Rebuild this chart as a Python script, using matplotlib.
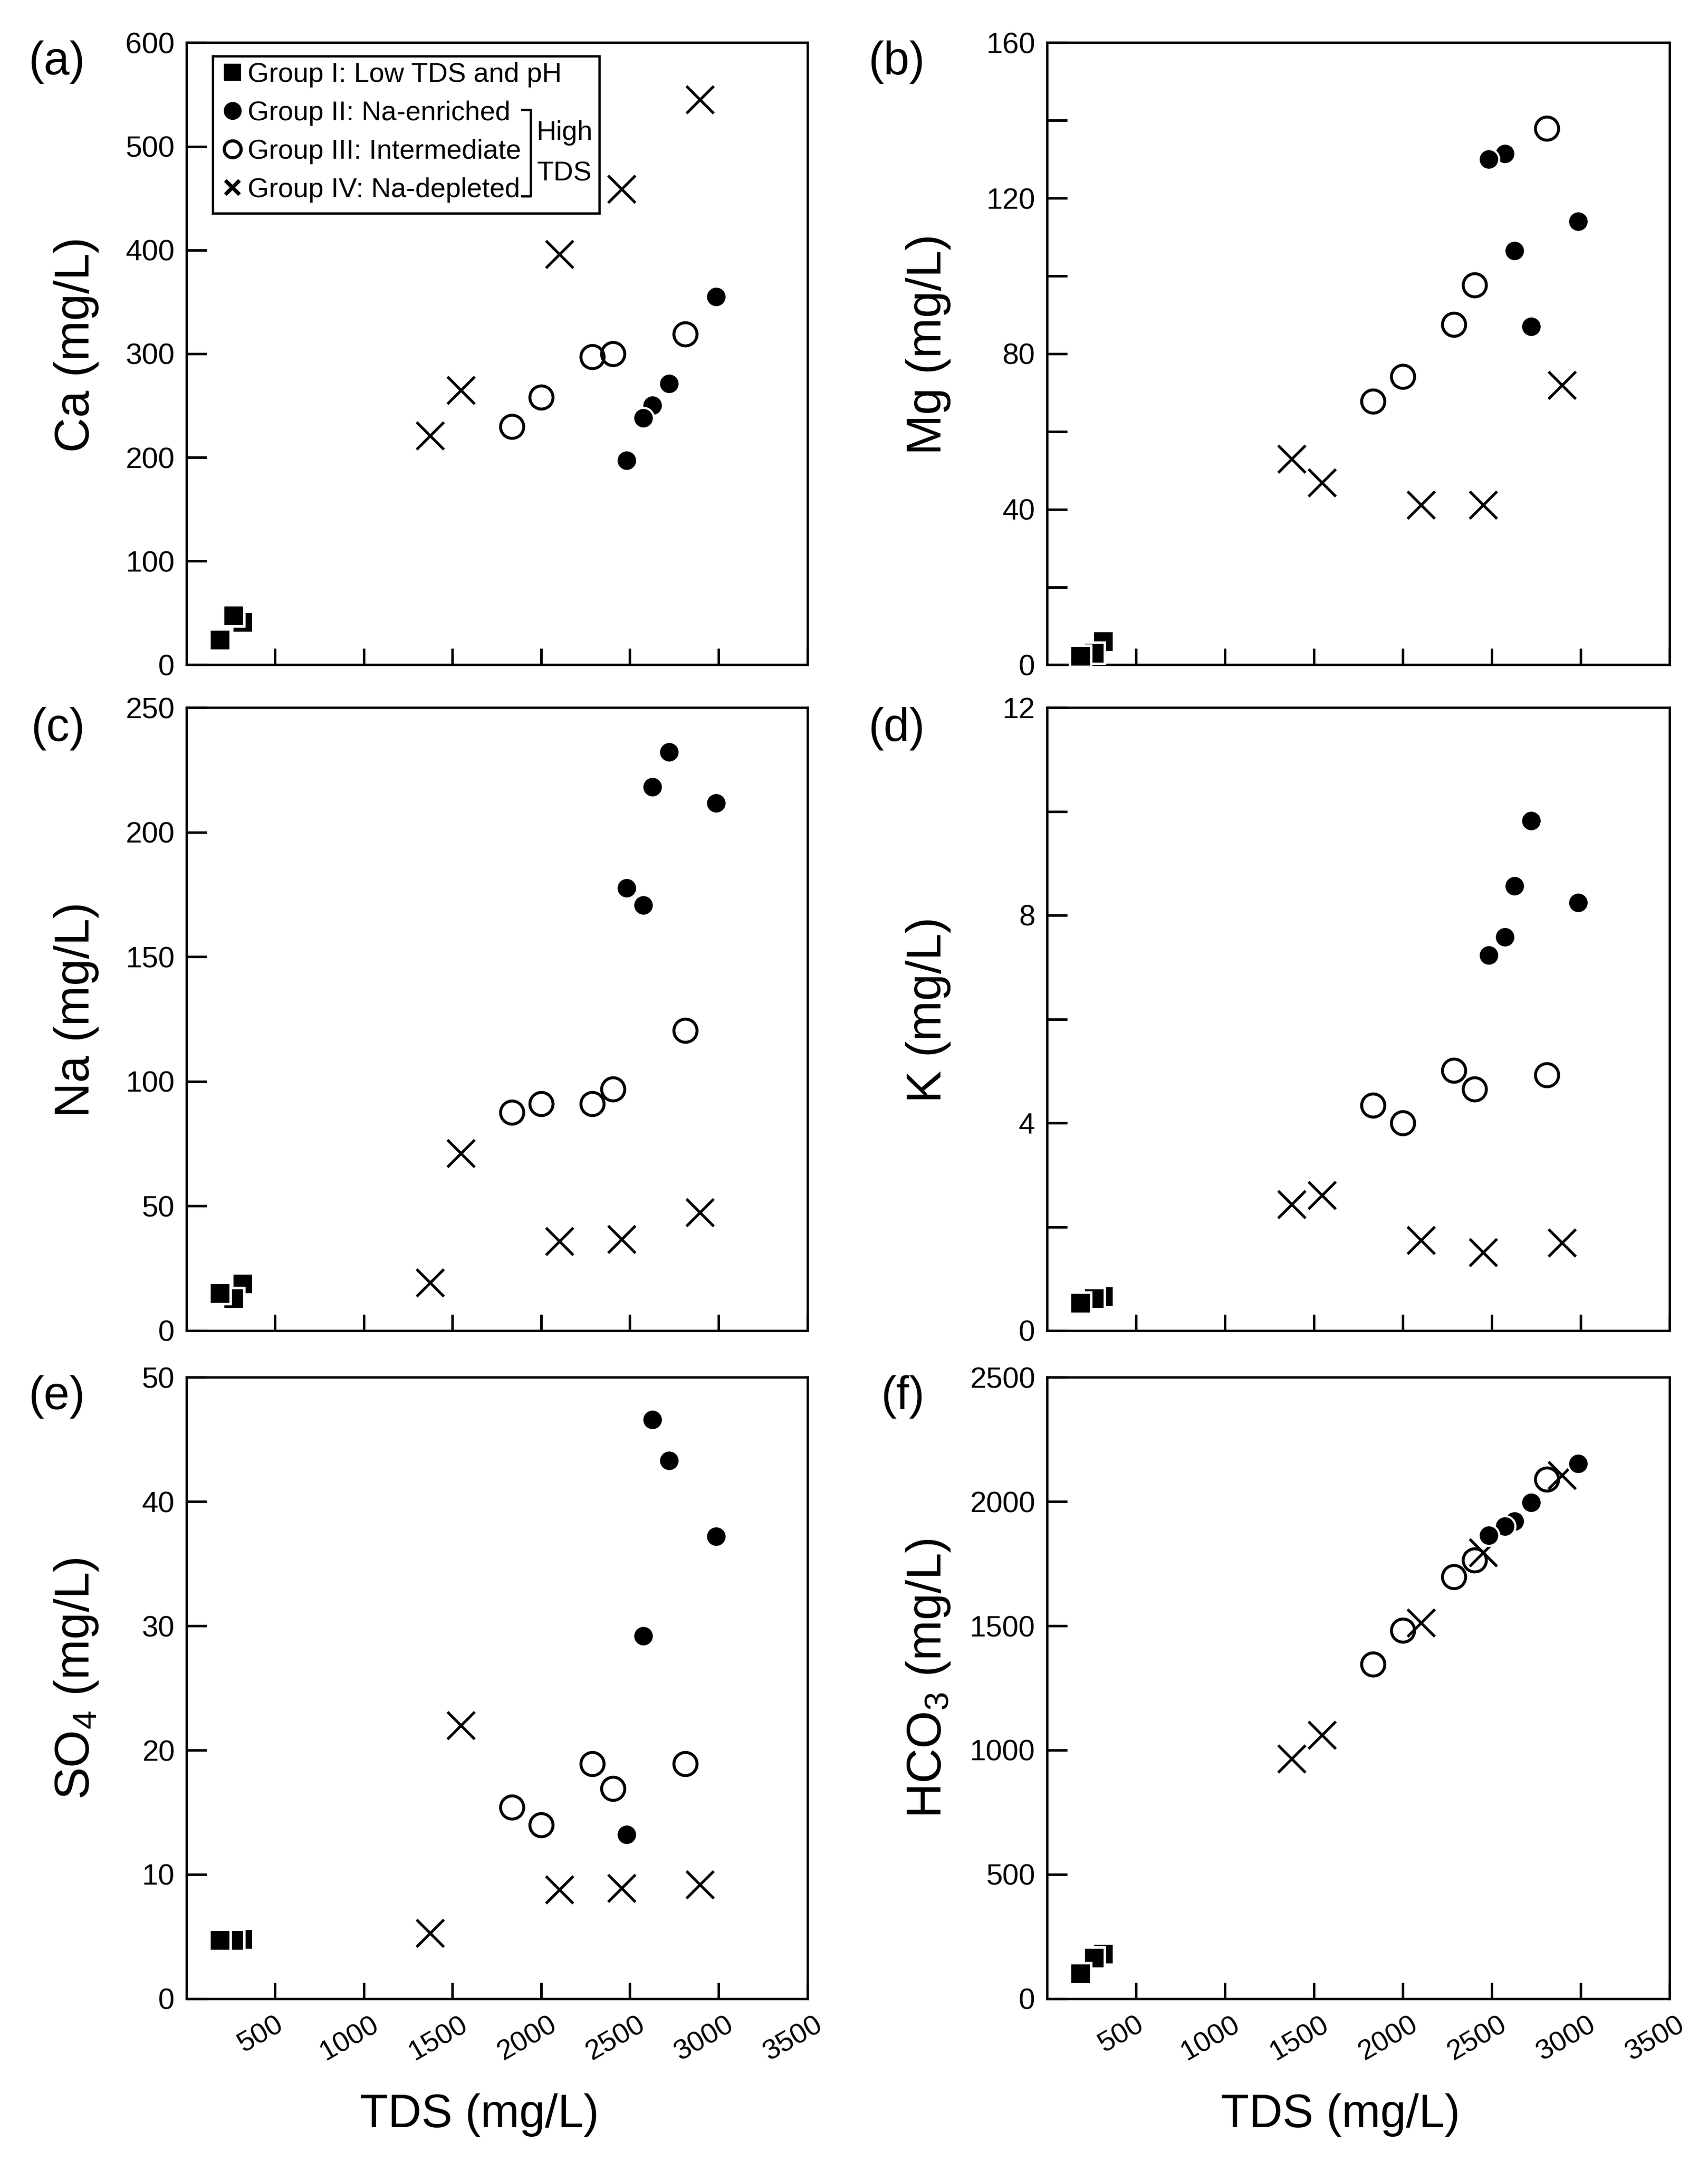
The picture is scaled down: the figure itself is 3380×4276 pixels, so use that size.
import matplotlib
matplotlib.use('Agg')
import matplotlib.pyplot as plt
from matplotlib.lines import Line2D
from matplotlib.patches import Rectangle
from matplotlib.ticker import MultipleLocator, FixedLocator
from matplotlib.transforms import ScaledTranslation

plt.rcParams['font.family'] = ['Liberation Sans', 'DejaVu Sans']
plt.rcParams['mathtext.default'] = 'regular'

# ---------------- data ----------------
group_names = ['I', 'II', 'III', 'IV']
legend_labels = ['Group I: Low TDS and pH', 'Group II: Na-enriched',
                 'Group III: Intermediate', 'Group IV: Na-depleted']

tds_g1 = [189, 267, 317]
tds_g2 = [2483, 2575, 2628, 2722, 2987]
tds_g3 = [1835, 2000, 2289, 2406, 2811]
tds_g4 = [1375, 1548, 2103, 2452, 2895]

ca = {'I': [23.9, 47.3, 41.0], 'II': [197, 238, 250, 271, 355],
      'III': [230, 258, 297, 300, 319], 'IV': [221, 265, 396, 459, 545]}
mg = {'I': [2.2, 3.0, 6.0], 'II': [130, 131.4, 106.5, 87, 114],
      'III': [67.8, 74.1, 87.5, 97.7, 138], 'IV': [52.9, 46.9, 41.1, 41.1, 71.9]}
na = {'I': [15.0, 13.0, 18.9], 'II': [177.7, 170.7, 218.2, 232.2, 211.6],
      'III': [87.6, 91.1, 91.1, 96.9, 120.5], 'IV': [19.2, 71.2, 35.8, 36.7, 47.5]}
k = {'I': [0.54, 0.62, 0.66], 'II': [7.23, 7.58, 8.56, 9.82, 8.24],
     'III': [4.34, 4.0, 5.01, 4.65, 4.92], 'IV': [2.43, 2.61, 1.74, 1.51, 1.69]}
so4 = {'I': [4.7, 4.7, 4.8], 'II': [13.2, 29.2, 46.6, 43.3, 37.2],
       'III': [15.4, 14.0, 18.9, 16.9, 18.9], 'IV': [5.3, 22.0, 8.8, 8.9, 9.2]}
hco3 = {'I': [101, 164, 180], 'II': [1863, 1901, 1920, 1995, 2152],
        'III': [1345, 1482, 1697, 1765, 2090], 'IV': [965, 1060, 1513, 1795, 2105]}

tds = {'I': tds_g1, 'II': tds_g2, 'III': tds_g3, 'IV': tds_g4}

panel_tags = ['(a)', '(b)', '(c)', '(d)', '(e)', '(f)']
panel_ylabels = ['Ca (mg/L)', 'Mg (mg/L)', 'Na (mg/L)', 'K (mg/L)',
                 'SO$_4$ (mg/L)', 'HCO$_3$ (mg/L)']
panel_data = [ca, mg, na, k, so4, hco3]
panel_ymax = [600, 160, 250, 12, 50, 2500]
panel_major = [100, 40, 50, 4, 10, 500]
panel_minor = [None, 20, None, 2, None, None]
x_ticks = [500, 1000, 1500, 2000, 2500, 3000, 3500]

# ---------------- layout ----------------
W, H, DPI = 3380, 4276, 300
fig = plt.figure(figsize=(W / DPI, H / DPI), dpi=DPI)

col_left = [368.5, 2071.5]
col_w = [1229, 1232]
row_top = [84.4, 1400, 2725]
row_h = [1231, 1233, 1230]
tag_right = [168, 1830]
tag_yc = [123, 1442, 2764]

styles = {
    'I': dict(marker='s', ms=10.3, mfc='black', mec='white', mew=1.2),
    'II': dict(marker='o', ms=9.8, mfc='black', mec='white', mew=1.0),
    'III': dict(marker='o', ms=11.0, mfc='none', mec='black', mew=1.4),
    'IV': dict(marker='x', ms=13, mec='black', mfc='black', mew=1.3),
}
draw_order = ['III', 'IV', 'I', 'II']

axes = []
for i in range(6):
    r, c = divmod(i, 2)
    left, w = col_left[c], col_w[c]
    top, h = row_top[r], row_h[r]
    ax = fig.add_axes([left / W, 1 - (top + h) / H, w / W, h / H])
    axes.append(ax)
    data = panel_data[i]
    for g in draw_order:
        ax.plot(tds[g][::-1], data[g][::-1], ls='none', clip_on=False,
                zorder=3, **styles[g])
    ax.set_xlim(0, 3500)
    ax.set_ylim(0, panel_ymax[i])
    ax.yaxis.set_major_locator(MultipleLocator(panel_major[i]))
    if panel_minor[i]:
        ax.yaxis.set_minor_locator(MultipleLocator(panel_minor[i]))
    ax.xaxis.set_major_locator(FixedLocator(x_ticks))
    ax.tick_params(axis='y', which='both', direction='in', length=9.5, width=1.2,
                   labelsize=14, pad=5.5, right=False)
    ax.tick_params(axis='x', which='both', direction='in', length=7.8, width=1.2,
                   labelsize=13.5, pad=6, top=False)
    for sp in ax.spines.values():
        sp.set_linewidth(1.1)
    ax.set_ylabel(panel_ylabels[i], fontsize=23, va='center')
    ax.yaxis.set_label_coords(-217 / w if c == 0 else -234 / w, 0.515)
    if r < 2:
        ax.tick_params(axis='x', labelbottom=False)
    else:
        ax.set_xticklabels([str(t) for t in x_ticks])
        off = ScaledTranslation(-6.7 / 72, 0, fig.dpi_scale_trans)
        for lab in ax.get_xticklabels():
            lab.set_rotation(30)
            lab.set_ha('center')
            lab.set_transform(lab.get_transform() + off)
        ax.set_xlabel('TDS (mg/L)', fontsize=22, va='center')
        ax.xaxis.set_label_coords(0.472, -230 / h)
    fig.text(tag_right[c] / W, 1 - tag_yc[r] / H, panel_tags[i],
             ha='right', va='center', fontsize=22)

# ---------------- legend in panel (a) ----------------
ax = axes[0]
handles = [
    Line2D([], [], ls='none', marker='s', ms=8.2, mfc='black', mec='black', mew=0),
    Line2D([], [], ls='none', marker='o', ms=8.5, mfc='black', mec='black', mew=0),
    Line2D([], [], ls='none', marker='o', ms=8.0, mfc='none', mec='black', mew=1.5),
    Line2D([], [], ls='none', marker='x', ms=6.5, mec='black', mew=1.8),
]
leg = ax.legend(handles, legend_labels, loc='upper left',
                bbox_to_anchor=(0.0614, 0.9683), bbox_transform=ax.transAxes,
                frameon=False, fontsize=13, handlelength=0.6, handletextpad=0.25,
                labelspacing=0.48, borderpad=0, borderaxespad=0, numpoints=1)
ax.add_patch(Rectangle((0.0427, 0.726), 0.6223, 0.252, transform=ax.transAxes,
                       fill=False, ec='black', lw=1.1, zorder=5))
ax.add_line(Line2D([0.541, 0.5545, 0.5545, 0.541], [0.892, 0.892, 0.753, 0.753],
                   transform=ax.transAxes, color='black', lw=1.1))
ax.text(0.5635, 0.8546, 'High', transform=ax.transAxes, ha='left', va='center',
        fontsize=13)
ax.text(0.5651, 0.7896, 'TDS', transform=ax.transAxes, ha='left', va='center',
        fontsize=13)

fig.savefig('out.png', dpi=DPI, facecolor='white')
